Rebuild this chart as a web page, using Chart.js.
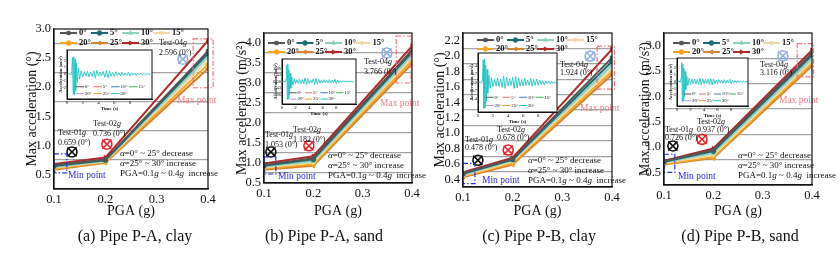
<!DOCTYPE html>
<html>
<head>
<meta charset="utf-8">
<script src="https://cdn.jsdelivr.net/npm/chart.js@4.4.1/dist/chart.umd.min.js"></script>
<style>
  body { margin: 0; background: #fff; }
  #wrap { position: relative; width: 839px; height: 258px; overflow: hidden; font-family: "Liberation Serif", serif; }
  #wrap canvas { position: absolute; left: 0; top: 0; }
  .cap { position: absolute; top: 227px; width: 220px; text-align: center; font-size: 16px; color: #111; }
</style>
</head>
<body>
<div id="wrap"></div>
<script>
// ---- data ----
const pga = [0.1, 0.2, 0.4];
const angles = ['0°', '5°', '10°', '15°', '20°', '25°', '30°'];

// max acceleration, one row per angle, values at PGA 0.1 / 0.2 / 0.4 g
const clayA = [[0.66, 0.755, 2.62], [0.645, 0.745, 2.58], [0.63, 0.735, 2.52], [0.615, 0.725, 2.46],
               [0.60, 0.715, 2.39], [0.58, 0.70, 2.32], [0.68, 0.79, 2.80]];
const sandA = [[0.95, 1.12, 3.82], [0.93, 1.09, 3.77], [0.91, 1.05, 3.70], [0.89, 1.01, 3.63],
               [0.86, 0.97, 3.56], [0.83, 0.93, 3.48], [0.99, 1.17, 3.92]];
const clayB = [[0.478, 0.665, 1.98], [0.47, 0.655, 1.93], [0.46, 0.645, 1.88], [0.45, 0.63, 1.84],
               [0.44, 0.61, 1.80], [0.425, 0.59, 1.76], [0.49, 0.68, 2.09]];
const sandB = [[0.72, 0.94, 2.85], [0.71, 0.92, 2.81], [0.70, 0.88, 2.75], [0.685, 0.84, 2.70],
               [0.67, 0.80, 2.65], [0.655, 0.78, 2.60], [0.73, 0.97, 2.91]];

// test points (circled crosses) and their labels
const testNames = ['Test-01', 'Test-02', 'Test-04'];
const markXA = [0.135, 0.203, 0.351], markYA = [0.887, 1.02, 2.48], testA = ['0.659', '0.736', '2.596'];
const markXB = [0.114, 0.191, 0.349], markYB = [1.275, 1.43, 3.75], testB = ['1.053', '1.182', '3.766'];
const markXC = [0.130, 0.191, 0.356], markYC = [0.647, 0.78, 2.0], testC = ['0.478', '0.678', '1.924'];
const markXD = [0.118, 0.177, 0.341], markYD = [1.02, 1.15, 2.80], testD = ['0.726', '0.937', '3.116'];

// min / max boxes: [x0, x1, y0, y1]
const minBoxA = [0.1, 0.125, 0.526, 0.852], maxBoxA = [0.371, 0.41, 1.99, 2.83];
const minBoxB = [0.1, 0.124, 0.725, 1.15], maxBoxB = [0.368, 0.398, 3.0, 4.175];
const minBoxC = [0.1, 0.124, 0.345, 0.608], maxBoxC = [0.37, 0.405, 1.57, 2.13];
const minBoxD = [0.1, 0.122, 0.5, 0.857], maxBoxD = [0.37, 0.403, 2.385, 3.04];

// inset acceleration time histories
const waveTime = [0, 0.3, 0.5, 0.6, 0.7, 0.78, 0.86, 0.94, 1.02, 1.1, 1.2, 1.3, 1.45, 1.6, 1.8,
  2.0, 2.2, 2.4, 2.6, 2.8, 3.0, 3.2, 3.4, 3.6, 3.8, 4.0, 4.2, 4.4, 4.6, 4.8, 5.0, 5.2, 5.4, 5.6, 5.8,
  6.0, 6.2, 6.4, 6.6, 6.8, 7.0, 7.2, 7.4, 7.6, 7.8, 8.0, 8.2, 8.4, 8.6, 8.8, 9.0, 9.2, 9.4, 9.6, 9.8,
  10.0, 10.2, 10.4, 10.6];
const waveA = [0, 0.05, -0.1, 0.4, 2.4, -2.9, 2.5, -3.0, 2.2, -2.4, 1.6, -1.2, 0.9, -0.7, 0.5,
  -0.4, 0.35, -0.3, 0.45, -0.4, 0.3, -0.35, 0.5, -0.6, 0.55,
  -0.3, 0.3, -0.25, 0.4, -0.45, 0.5, -0.55, 0.45, -0.3, 0.25,
  -0.3, 0.35, -0.2, 0.2, -0.25, 0.3, -0.2, 0.15, -0.2, 0.3,
  -0.25, 0.2, -0.15, 0.15, -0.2, 0.15, -0.1, 0.15, -0.1, 0.1,
  -0.1, 0.1, -0.05, 0];
const waveB = [0, 0.05, -0.1, 0.6, 3.6, -4.0, 3.9, -3.8, 2.6, -2.9, 1.8, -1.5, 1.0, -0.8, 0.6,
  -0.5, 0.4, -0.35, 0.5, -0.45, 0.4, -0.5, 0.8, -0.7, 0.6,
  -0.4, 0.35, -0.3, 0.6, -0.65, 0.7, -0.6, 0.5, -0.35, 0.3,
  -0.35, 0.4, -0.3, 0.25, -0.3, 0.45, -0.35, 0.3, -0.3, 0.5,
  -0.45, 0.35, -0.25, 0.2, -0.25, 0.2, -0.15, 0.2, -0.15, 0.15,
  -0.12, 0.1, -0.08, 0];
const waveC = [0, 0.03, -0.05, 0.3, 1.9, -2.2, 2.0, -2.1, 1.5, -1.6, 1.1, -0.9, 0.6, -0.5, 0.4,
  -0.35, 0.3, -0.3, 0.4, -0.35, 0.3, -0.4, 0.55, -0.5, 0.45,
  -0.3, 0.3, -0.25, 0.45, -0.5, 0.5, -0.45, 0.4, -0.3, 0.25,
  -0.3, 0.35, -0.25, 0.2, -0.25, 0.35, -0.3, 0.25, -0.25, 0.3,
  -0.25, 0.2, -0.15, 0.15, -0.2, 0.15, -0.1, 0.15, -0.1, 0.1,
  -0.08, 0.08, -0.05, 0];
const waveD = [0, 0.05, -0.1, 0.5, 2.8, -3.0, 2.6, -2.8, 2.0, -2.2, 1.5, -1.2, 0.8, -0.6, 0.5,
  -0.45, 0.4, -0.3, 0.4, -0.35, 0.3, -0.4, 0.5, -0.5, 0.45,
  -0.3, 0.3, -0.25, 0.4, -0.45, 0.45, -0.5, 0.4, -0.3, 0.25,
  -0.3, 0.3, -0.2, 0.2, -0.25, 0.3, -0.25, 0.2, -0.2, 0.35,
  -0.3, 0.2, -0.15, 0.15, -0.2, 0.15, -0.1, 0.12, -0.1, 0.1,
  -0.08, 0.08, -0.05, 0];

// ---- styles ----
const serif = '"Liberation Serif", "Times New Roman", serif';
const W = 839, H = 230;
const lineColors = ['#555555', '#1f6b74', '#8fd2bd', '#efd9a6', '#f4a41f', '#d8822f', '#b3282b'];
const pointStyles = ['rect', 'circle', 'triangle', 'triangle', 'circle', 'triangle', 'triangle'];
const pointRot = [0, 0, 0, 180, 0, 270, 90];
const insetColors = ['#555555', '#f07070', '#3a78d8', '#3cb050', '#c39be8', '#e0a21e', '#22c4c4'];
const markColors = ['#111111', '#e8262a', '#93b1e6'];

const quarterMajor = v => Math.round(v * 100) % 50 === 0;
const tenthMajor = v => Math.round(v * 10) % 2 === 0;

const panels = [
  { series: clayA, yTitle: 'Max acceleration (°)', ymin: 0.25, ymax: 3.0, step: 0.25, major: quarterMajor,
    area: { l: 54, r: 208, t: 29, b: 189 }, yTitleX: 32, xTitleY: 211,
    leg: { x: 6, y: 4, dx: 31, dy: 10 }, markX: markXA, markY: markYA, vals: testA,
    minBox: minBoxA, maxBox: maxBoxA, lh: 9.5,
    txt: { t1: [58, 133], t2: [93, 124], t4: [159, 43], alpha: [120, 154], min: [68, 175], max: [177, 100] },
    inset: { l: 67, r: 152, t: 50, b: 99, xmax: 10.8, ymin: -3.6, ymax: 3.5, step: 1, dec: 0, wave: waveA },
    caption: '(a) Pipe P-A, clay', capX: 135 },
  { series: sandA, yTitle: 'Max acceleration (m/s²)', ymin: 0.5, ymax: 4.25, step: 0.25, major: quarterMajor,
    area: { l: 264, r: 412, t: 33, b: 183 }, yTitleX: 242, xTitleY: 211,
    leg: { x: 4, y: 10, dx: 28.5, dy: 9 }, markX: markXB, markY: markYB, vals: testB,
    minBox: minBoxB, maxBox: maxBoxB, lh: 10,
    txt: { t1: [265, 135], t2: [293, 130], t4: [364, 62], alpha: [328, 156], min: [278, 176], max: [380, 103] },
    inset: { l: 282, r: 356, t: 59, b: 104, xmax: 10.9, ymin: -5, ymax: 5, step: 1.43, dec: 2, wave: waveB },
    caption: '(b) Pipe P-A, sand', capX: 324 },
  { series: clayB, yTitle: 'Max acceleration (°)', ymin: 0.3, ymax: 2.3, step: 0.1, major: tenthMajor,
    area: { l: 463, r: 612, t: 33, b: 187 }, yTitleX: 440, xTitleY: 211,
    leg: { x: 14, y: 7, dx: 30, dy: 9 }, markX: markXC, markY: markYC, vals: testC,
    minBox: minBoxC, maxBox: maxBoxC, lh: 8,
    txt: { t1: [465, 140], t2: [497, 130], t4: [560, 65], alpha: [528, 161], min: [482, 180], max: [580, 108] },
    inset: { l: 478, r: 557, t: 53, b: 112, xmax: 10.5, ymin: -2.5, ymax: 2.5, step: 0.7, dec: 1, wave: waveC },
    caption: '(c) Pipe P-B, clay', capX: 539 },
  { series: sandB, yTitle: 'Max acceleration (m/s²)', ymin: 0.25, ymax: 3.25, step: 0.25, major: quarterMajor,
    area: { l: 664, r: 812, t: 33, b: 185 }, yTitleX: 645, xTitleY: 211,
    leg: { x: 9, y: 10, dx: 30, dy: 9 }, markX: markXD, markY: markYD, vals: testD,
    minBox: minBoxD, maxBox: maxBoxD, lh: 7.5,
    txt: { t1: [665, 130], t2: [697, 122], t4: [760, 65], alpha: [738, 156], min: [678, 176], max: [779, 100] },
    inset: { l: 677, r: 748, t: 58, b: 106, xmax: 10.5, ymin: -3.6, ymax: 3.5, step: 1, dec: 0, wave: waveD },
    caption: '(d) Pipe P-B, sand', capX: 740 }
];

function richText(ctx, x, y, parts, size, color, bold) {
  let cx = x;
  ctx.fillStyle = color;
  ctx.textBaseline = 'middle';
  ctx.textAlign = 'left';
  parts.forEach(([s, it]) => {
    ctx.font = (it ? 'italic ' : '') + (bold ? 'bold ' : '') + size + 'px ' + serif;
    ctx.fillText(s, cx, y);
    cx += ctx.measureText(s).width;
  });
}

function decoPlugin(P) {
  return {
    id: 'deco',
    afterDatasetsDraw(chart) {
      const { ctx, chartArea: a, scales: { x, y } } = chart;
      ctx.save();
      // dashed min / max boxes
      const box = (b, color) => {
        ctx.strokeStyle = color; ctx.lineWidth = 1.2; ctx.setLineDash([5, 2, 1.5, 2]);
        const x0 = x.getPixelForValue(b[0]), x1 = x.getPixelForValue(b[1]);
        const y0 = y.getPixelForValue(b[2]), y1 = y.getPixelForValue(b[3]);
        ctx.strokeRect(x0, y1, x1 - x0, y0 - y1);
      };
      box(P.minBox, '#2a36e0');
      box(P.maxBox, '#f0707c');
      ctx.setLineDash([]);

      // legend
      angles.forEach((lab, i) => {
        const row = i < 4 ? 0 : 1, col = i < 4 ? i : i - 4;
        const x0 = a.left + P.leg.x + col * P.leg.dx, yy = a.top + P.leg.y + row * P.leg.dy;
        ctx.strokeStyle = lineColors[i]; ctx.lineWidth = 2;
        ctx.beginPath(); ctx.moveTo(x0, yy); ctx.lineTo(x0 + 17, yy); ctx.stroke();
        ctx.fillStyle = lineColors[i]; ctx.lineWidth = 1;
        Chart.helpers.drawPoint(ctx, { pointStyle: pointStyles[i], rotation: pointRot[i], radius: 2.3, borderWidth: 1 }, x0 + 8.5, yy);
        richText(ctx, x0 + 19, yy, [[lab, false]], 8.5, '#111', true);
      });

      // annotations
      const t = P.txt, c = '#111';
      [t.t1, t.t2, t.t4].forEach((p, k) => {
        richText(ctx, p[0], p[1], [[testNames[k], false], ['g', true]], 8, c);
        richText(ctx, p[0], p[1] + P.lh, [[P.vals[k] + ' (0°)', false]], 8, c);
      });
      const ax = t.alpha[0], ay = t.alpha[1];
      richText(ctx, ax, ay, [['α', true], ['=0° ~ 25° decrease', false]], 9, c);
      richText(ctx, ax, ay + 10, [['α', true], ['=25° ~ 30° increase', false]], 9, c);
      richText(ctx, ax, ay + 20, [['PGA=0.1', false], ['g', true], [' ~ 0.4', false], ['g', true], ['  increase', false]], 9, c);
      richText(ctx, t.min[0], t.min[1], [['Min point', false]], 9.5, '#2a2ae0');
      richText(ctx, t.max[0], t.max[1], [['Max point', false]], 9.5, '#f07c88');

      // plot frame
      ctx.strokeStyle = '#111'; ctx.lineWidth = 1.2;
      ctx.strokeRect(a.left, a.top, a.right - a.left, a.bottom - a.top);
      ctx.restore();
    }
  };
}

function insetPlugin(P) {
  return {
    id: 'insetDeco',
    beforeDraw(chart) {
      const { ctx, chartArea: a } = chart;
      ctx.save(); ctx.fillStyle = '#fff';
      ctx.fillRect(a.left, a.top, a.right - a.left, a.bottom - a.top);
      ctx.restore();
    },
    afterDraw(chart) {
      const { ctx, chartArea: a } = chart;
      ctx.save();
      const w = a.right - a.left, h = a.bottom - a.top;
      angles.forEach((lab, i) => {
        const row = i < 4 ? 0 : 1, col = i < 4 ? i : i - 4;
        const x0 = a.left + 0.1 * w + col * 0.21 * w, yy = a.bottom - (row === 0 ? 0.25 : 0.11) * h;
        ctx.strokeStyle = insetColors[i]; ctx.lineWidth = 1;
        ctx.beginPath(); ctx.moveTo(x0, yy); ctx.lineTo(x0 + 0.1 * w, yy); ctx.stroke();
        richText(ctx, x0 + 0.11 * w, yy, [[lab, false]], 5, '#111');
      });
      ctx.strokeStyle = '#111'; ctx.lineWidth = 1;
      ctx.strokeRect(a.left, a.top, w, h);
      ctx.restore();
    }
  };
}

const wrap = document.getElementById('wrap');
function addCanvas() {
  const c = document.createElement('canvas');
  c.width = W; c.height = H;
  wrap.appendChild(c);
  return c;
}

Chart.defaults.font.family = serif;
Chart.defaults.color = '#111';

panels.forEach(P => {
  const A = P.area;
  const titleLH = 14 * 1.2;
  const yW = A.l - (P.yTitleX - titleLH / 2);
  const xH = P.xTitleY + titleLH / 2 - A.b;

  const datasets = angles.map((lab, i) => ({
    label: lab,
    data: pga.map((x, j) => ({ x, y: P.series[i][j] })),
    borderColor: lineColors[i], backgroundColor: lineColors[i],
    borderWidth: 2, pointStyle: pointStyles[i], pointRotation: pointRot[i],
    pointRadius: 2.4, pointBorderWidth: 1
  }));
  const marks = P.markX.map((x, k) => ({ x, y: P.markY[k] }));
  datasets.push({ label: 'ring', data: marks, showLine: false, clip: false, pointStyle: 'circle',
    pointRadius: 5, pointBorderWidth: 1.6, pointBorderColor: markColors, pointBackgroundColor: 'rgba(0,0,0,0)' });
  datasets.push({ label: 'cross', data: marks, showLine: false, clip: false, pointStyle: 'crossRot',
    pointRadius: 6.5, pointBorderWidth: 1.6, pointBorderColor: markColors, pointBackgroundColor: 'rgba(0,0,0,0)' });

  new Chart(addCanvas(), {
    type: 'line',
    data: { datasets },
    options: {
      responsive: false, animation: false, events: [],
      layout: { padding: { left: A.l - yW, right: W - A.r, top: A.t, bottom: H - A.b - xH } },
      plugins: { legend: { display: false }, tooltip: { enabled: false } },
      scales: {
        x: {
          type: 'linear', min: 0.1, max: 0.4,
          ticks: { stepSize: 0.1, padding: 3, maxRotation: 0, font: { size: 12.5 }, color: '#111', callback: v => v.toFixed(1) },
          grid: { display: false, drawTicks: false },
          border: { color: '#111', width: 1.2 },
          title: { display: true, text: 'PGA (g)', font: { size: 14 }, color: '#111', padding: 0 },
          afterFit: s => { s.height = xH; s.paddingLeft = 0; s.paddingRight = 0; }
        },
        y: {
          min: P.ymin, max: P.ymax,
          ticks: { stepSize: P.step, maxTicksLimit: 100, autoSkip: false, padding: 3, font: { size: 12.5 }, color: '#111',
            callback: v => P.major(v) ? v.toFixed(1) : '' },
          grid: { drawTicks: false, lineWidth: 1.3,
            color: c => {
              const v = c.tick ? c.tick.value : 0;
              if (P.major(v) || Math.abs(v - P.ymin) < 1e-6 || Math.abs(v - P.ymax) < 1e-6) return 'rgba(0,0,0,0)';
              return '#a3a3a3';
            } },
          border: { color: '#111', width: 1.2 },
          title: { display: true, text: P.yTitle, font: { size: 14 }, color: '#111', padding: 0 },
          afterFit: s => { s.width = yW; s.paddingTop = 0; s.paddingBottom = 0; }
        }
      }
    },
    plugins: [decoPlugin(P)]
  });

  // inset time history
  const I = P.inset;
  const iyW = 9, ixH = 13;
  new Chart(addCanvas(), {
    type: 'line',
    data: { datasets: [{ label: '30°', data: waveTime.map((t, i) => ({ x: t, y: I.wave[i] })),
      borderColor: '#22c4c4', borderWidth: 0.9, pointRadius: 0, tension: 0 }] },
    options: {
      responsive: false, animation: false, events: [],
      layout: { padding: { left: I.l - iyW, right: W - I.r, top: I.t, bottom: H - I.b - ixH } },
      plugins: { legend: { display: false }, tooltip: { enabled: false } },
      scales: {
        x: {
          type: 'linear', min: 0, max: I.xmax,
          ticks: { stepSize: 2, padding: 1, maxRotation: 0, autoSkip: false, font: { size: 5 }, color: '#111',
            callback: v => Math.abs(v / 2 - Math.round(v / 2)) < 1e-6 ? String(v) : '' },
          grid: { display: false, drawTicks: false },
          border: { color: '#111', width: 1 },
          title: { display: true, text: 'Time (s)', font: { size: 5, weight: 'bold' }, color: '#111', padding: 0 },
          afterFit: s => { s.height = ixH; s.paddingLeft = 0; s.paddingRight = 0; }
        },
        y: {
          min: I.ymin, max: I.ymax,
          ticks: { stepSize: I.step, maxTicksLimit: 50, autoSkip: false, padding: 1, font: { size: 4.5 }, color: '#111',
            callback: (v, i, ts) => (i === 0 || i === ts.length - 1) ? '' : v.toFixed(I.dec) },
          grid: { display: false, drawTicks: false },
          border: { color: '#111', width: 1 },
          title: { display: true, text: 'Acceleration (m/s²)', font: { size: 4.5, weight: 'bold' }, color: '#111', padding: 0 },
          afterFit: s => { s.width = iyW; s.paddingTop = 0; s.paddingBottom = 0; }
        }
      }
    },
    plugins: [insetPlugin(P)]
  });

  const cap = document.createElement('div');
  cap.className = 'cap';
  cap.style.left = (P.capX - 110) + 'px';
  cap.textContent = P.caption;
  wrap.appendChild(cap);
});
</script>
</body>
</html>
